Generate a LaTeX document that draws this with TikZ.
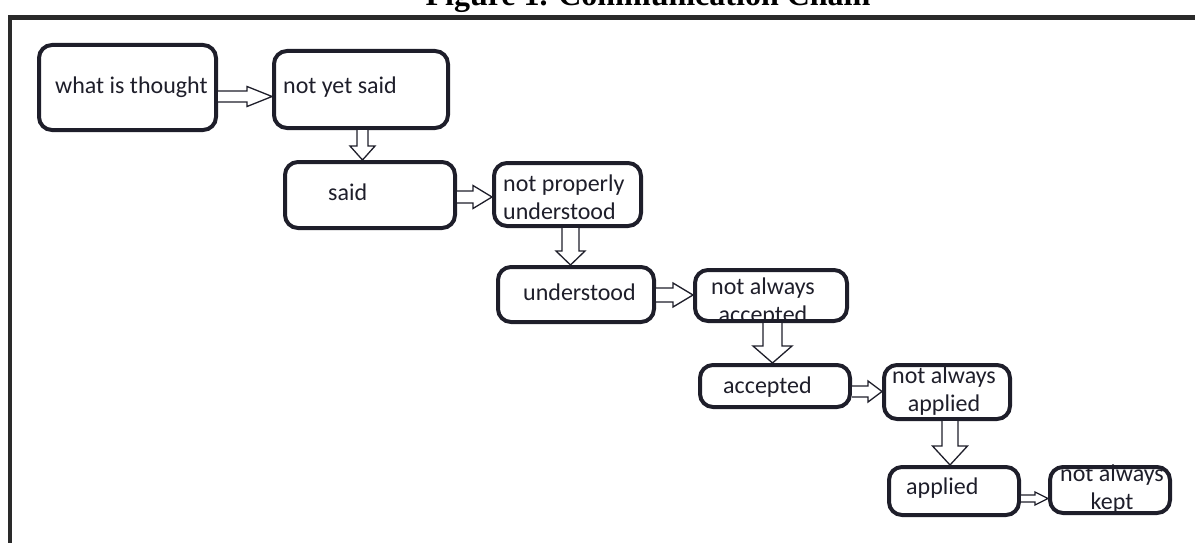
\documentclass[tikz,border=0pt]{standalone}
\usepackage{fontspec}
\setmainfont{Carlito}
\newfontfamily\titlefont{Liberation Serif}
\usetikzlibrary{calc}
\definecolor{ink}{HTML}{1E1E2A}
\definecolor{frame}{HTML}{2A2A2A}
\tikzset{
  box/.style={draw=ink, line width=4pt, rounded corners=13pt, inner sep=0pt},
  txt/.style={text=ink, font=\fontsize{24}{28}\selectfont, inner sep=0pt, anchor=base west},
  mtxt/.style={text=ink, font=\fontsize{24}{28}\selectfont, inner sep=0pt, align=center},
  blockarrow/.style={draw=ink, fill=white, line width=1.3pt, line join=miter},
}
\newcommand\hblock[6]{% from, to, y, shaft half, head half, head length
  \draw[blockarrow] (#1.east |- 0,#3-#4) -- ($(#2.west |- 0,#3-#4)+(-#6,0)$) -- ($(#2.west |- 0,#3-#5)+(-#6,0)$) -- (#2.west |- 0,#3) -- ($(#2.west |- 0,#3+#5)+(-#6,0)$) -- ($(#2.west |- 0,#3+#4)+(-#6,0)$) -- (#1.east |- 0,#3+#4);}
\newcommand\vblock[6]{% from, to, x, shaft half, head half, head length
  \draw[blockarrow] (#1.south -| #3-#4,0) -- ($(#2.north -| #3-#4,0)+(0,-#6)$) -- ($(#2.north -| #3-#5,0)+(0,-#6)$) -- (#2.north -| #3,0) -- ($(#2.north -| #3+#5,0)+(0,-#6)$) -- ($(#2.north -| #3+#4,0)+(0,-#6)$) -- (#1.south -| #3+#4,0);}
\begin{document}
\begin{tikzpicture}[x=1pt,y=-1pt]
\useasboundingbox (0,0) rectangle (1195,543);
% frame
\draw[frame, line width=4.5pt] (10,560) -- (10,17.5) -- (1210,17.5);
\node[anchor=base, font=\titlefont\bfseries\fontsize{32}{36}\selectfont, inner sep=0pt] (title) at (648,6) {Figure 1. Communication Chain};
% boxes
\node[box, minimum width=177, minimum height=85] (b1) at (127.5,87.5) {};
\node[box, minimum width=174, minimum height=77] (b2) at (361,89.5) {};
\node[box, minimum width=170, minimum height=66] (b3) at (370,195) {};
\node[box, minimum width=147, minimum height=63] (b4) at (567.5,194.5) {};
\node[box, minimum width=156, minimum height=55] (b5) at (576,294.5) {};
\node[box, minimum width=152, minimum height=51] (b6) at (771,295.5) {};
\node[box, minimum width=150, minimum height=42] (b7) at (775,386) {};
\node[box, minimum width=126, minimum height=54] (b8) at (947,392) {};
\node[box, minimum width=130, minimum height=48] (b9) at (954,491) {};
\node[box, minimum width=120, minimum height=46] (b10) at (1110,490) {};
% texts
\node[txt] (t1) at (55,93) {what is thought};
\node[txt] (t2) at (283,94) {not yet said};
\node[txt] (t3) at (328,200) {said};
\node[mtxt, anchor=north west, align=left] (t4) at (503,175) {not properly\\understood};
\node[txt] (t5) at (523,300) {understood};
\node[mtxt, anchor=north] (t6) at (763,278) {not always\\accepted};
\node[txt] (t7) at (723,393) {accepted};
\node[mtxt, anchor=north] (t8) at (944,367) {not always\\applied};
\node[txt] (t9) at (906,494) {applied};
\node[mtxt, anchor=north] (t10) at (1112,465) {not always\\kept};
% block arrows
\hblock{b1}{b2}{96.5}{5.5}{10}{25}
\hblock{b3}{b4}{197}{6}{11.5}{19}
\hblock{b5}{b6}{295}{7}{12}{20}
\hblock{b7}{b8}{391.5}{5.5}{10.5}{14}
\hblock{b9}{b10}{498.5}{3.5}{6.5}{13}
\vblock{b2}{b3}{362.5}{5.5}{12.5}{14}
\vblock{b4}{b5}{570.5}{8.5}{14.5}{14}
\vblock{b6}{b7}{772.5}{9.5}{19.5}{17}
\vblock{b8}{b9}{950}{8}{17.5}{19}
\end{tikzpicture}
\end{document}
